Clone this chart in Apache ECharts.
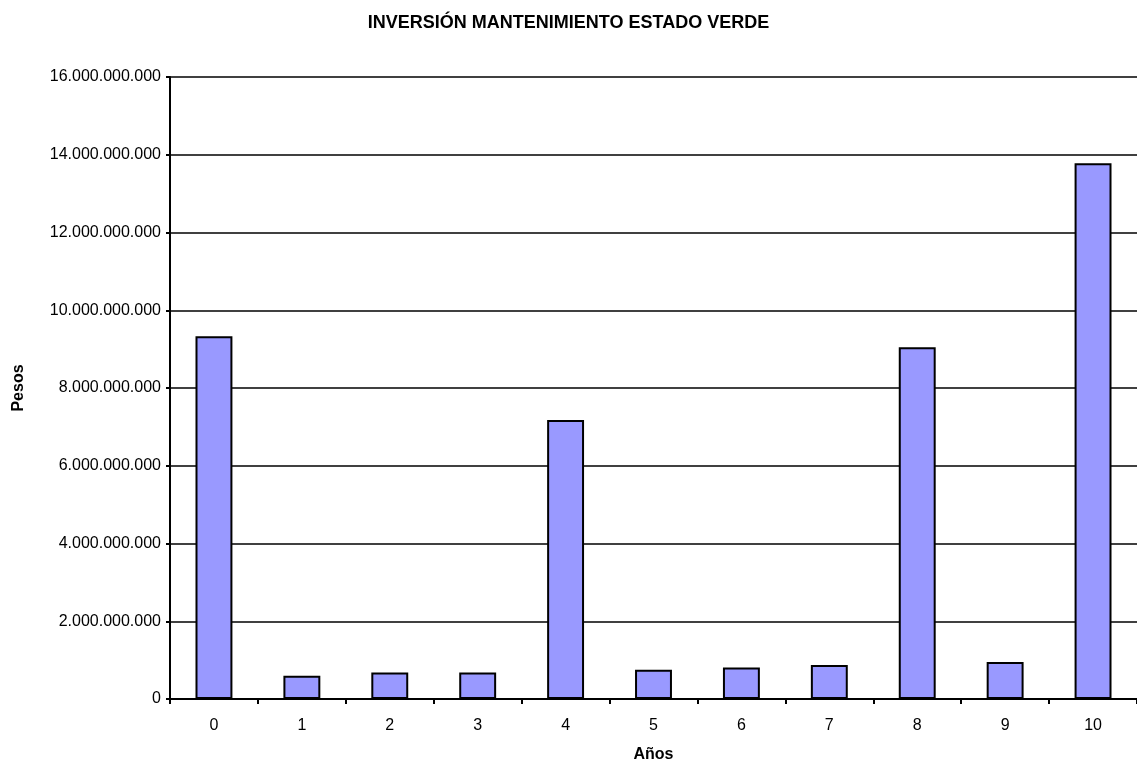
<!DOCTYPE html>
<html>
<head>
<meta charset="utf-8">
<script src="https://cdn.jsdelivr.net/npm/echarts@6/dist/echarts.min.js"></script>
<style>
  html, body { margin: 0; padding: 0; background: #fff; }
  #chart { width: 1137px; height: 764px; }
</style>
</head>
<body>
<div id="chart"></div>
<script>
  // años y pesos invertidos
  const years = ['0', '1', '2', '3', '4', '5', '6', '7', '8', '9', '10']
  const pesos = [9.33e9, 0.6e9, 0.68e9, 0.68e9, 7.18e9, 0.75e9, 0.81e9, 0.875e9, 9.05e9, 0.95e9, 13.78e9]

  function fmt(v) {
    return String(Math.round(v)).replace(/\B(?=(\d{3})+(?!\d))/g, '.')
  }

  const font = 'Liberation Sans, Arial, sans-serif'
  let myChart = echarts.init(document.getElementById('chart'))
  let option = {
    animation: false,
    title: {
      text: 'INVERSIÓN MANTENIMIENTO ESTADO VERDE',
      left: 'center',
      top: 9,
      textStyle: { fontFamily: font, fontSize: 18, fontWeight: 'bold', color: '#000' }
    },
    grid: { left: 170, right: 0, top: 77, bottom: 65, outerBoundsMode: 'none', containLabel: false },
    xAxis: {
      type: 'category',
      data: years,
      name: 'Años',
      nameLocation: 'middle',
      nameGap: 48,
      nameTextStyle: { fontFamily: font, fontSize: 16, fontWeight: 'bold', color: '#000' },
      axisLine: { lineStyle: { color: '#000', width: 2 } },
      axisTick: { show: true, alignWithLabel: false, length: 5, lineStyle: { color: '#000', width: 2 } },
      axisLabel: { fontFamily: font, fontSize: 16, color: '#000', margin: 19 }
    },
    yAxis: {
      type: 'value',
      min: 0,
      max: 16e9,
      interval: 2e9,
      name: 'Pesos',
      nameLocation: 'middle',
      nameGap: 143,
      nameTextStyle: { fontFamily: font, fontSize: 16, fontWeight: 'bold', color: '#000' },
      axisLine: { show: true, lineStyle: { color: '#000', width: 2 } },
      axisTick: { show: true, length: 4, lineStyle: { color: '#000', width: 2 } },
      axisLabel: { fontFamily: font, fontSize: 16, color: '#000', margin: 9, formatter: fmt },
      splitLine: { lineStyle: { color: '#000', width: 1.5 } }
    },
    series: [{
      type: 'bar',
      data: pesos,
      barWidth: '42%',
      itemStyle: { color: '#9999ff', borderColor: '#000', borderWidth: 2 }
    }]
  }
  myChart.setOption(option)
</script>
</body>
</html>
